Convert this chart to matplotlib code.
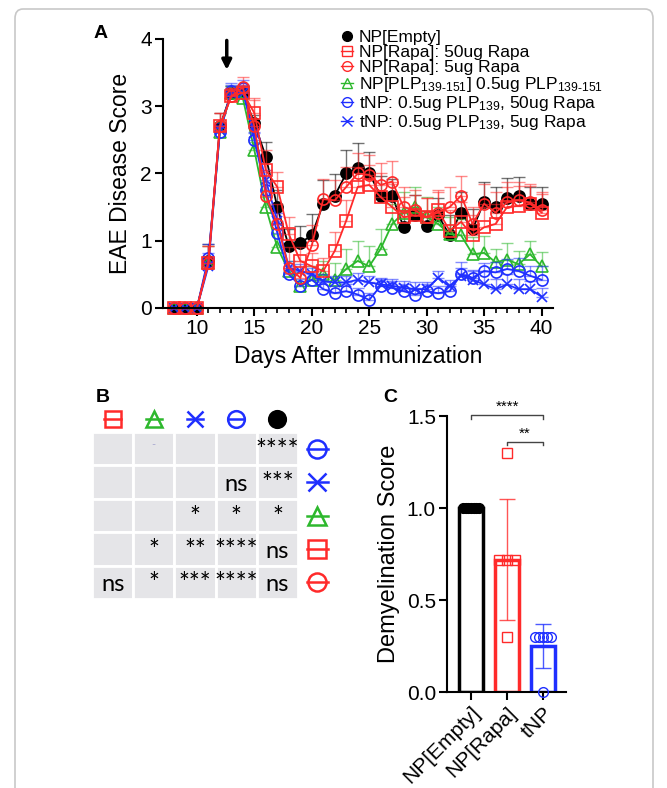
import numpy as np
import matplotlib.pyplot as plt
from matplotlib.lines import Line2D
from matplotlib.patches import Rectangle, FancyBboxPatch

plt.rcParams["font.family"] = ["Liberation Sans", "DejaVu Sans"]
plt.rcParams["mathtext.fontset"] = "custom"
plt.rcParams["mathtext.rm"] = "Liberation Sans"
plt.rcParams["mathtext.it"] = "Liberation Sans"

# ---- Panel A data: mean EAE score and upper SEM, days 8..40 ----
days = list(range(8, 41))

empty = [0, 0, 0, 0.70, 2.70, 3.20, 3.20, 2.75, 2.25, 1.50, 0.92, 0.97, 1.08, 1.55, 1.67, 2.00, 2.08,
         2.00, 1.67, 1.67, 1.20, 1.38, 1.22, 1.38, 1.08, 1.42, 1.17, 1.58, 1.50, 1.63, 1.67, 1.55, 1.55]
empty_err = [0, 0, 0, 0.25, 0.20, 0.10, 0.10, 0.12, 0.22, 0.25, 0.25, 0.25, 0.32, 0.35, 0.32, 0.35, 0.38,
             0.32, 0.30, 0.25, 0.25, 0.30, 0.22, 0.25, 0.30, 0.30, 0.30, 0.30, 0.30, 0.30, 0.28, 0.25, 0.25]

rapa50 = [0, 0, 0, 0.67, 2.70, 3.15, 3.20, 2.90, 2.05, 1.80, 1.10, 0.70, 0.62, 0.55, 0.85, 1.30, 1.80,
          1.83, 1.65, 1.50, 1.35, 1.38, 1.35, 1.45, 1.15, 1.28, 1.08, 1.20, 1.25, 1.50, 1.52, 1.55, 1.42]
rapa50_err = [0, 0, 0, 0.25, 0.20, 0.12, 0.12, 0.22, 0.30, 0.22, 0.25, 0.20, 0.20, 0.20, 0.28, 0.30, 0.30,
              0.30, 0.35, 0.35, 0.30, 0.30, 0.28, 0.30, 0.30, 0.30, 0.30, 0.30, 0.30, 0.30, 0.30, 0.30, 0.30]

rapa5 = [0, 0, 0, 0.67, 2.70, 3.15, 3.28, 2.70, 1.67, 1.25, 0.60, 0.45, 0.93, 1.62, 1.60, 1.80, 2.00,
         1.98, 1.83, 1.88, 1.50, 1.45, 1.35, 1.42, 1.50, 1.67, 1.25, 1.55, 1.42, 1.57, 1.60, 1.57, 1.45]
rapa5_err = [0, 0, 0, 0.25, 0.20, 0.12, 0.15, 0.40, 0.35, 0.30, 0.30, 0.25, 0.30, 0.30, 0.30, 0.30, 0.30,
             0.30, 0.32, 0.30, 0.30, 0.30, 0.28, 0.30, 0.30, 0.30, 0.25, 0.30, 0.30, 0.30, 0.28, 0.25, 0.25]

plp = [0, 0, 0, 0.67, 2.62, 3.20, 3.12, 2.35, 1.50, 0.90, 0.55, 0.33, 0.42, 0.50, 0.42, 0.58, 0.70,
       0.62, 0.88, 1.25, 1.42, 1.50, 1.35, 1.25, 1.10, 1.08, 0.80, 0.82, 0.68, 0.72, 0.65, 0.80, 0.62]
plp_err = [0, 0, 0, 0.25, 0.15, 0.10, 0.10, 0.12, 0.15, 0.20, 0.15, 0.20, 0.20, 0.20, 0.25, 0.30, 0.30,
           0.30, 0.30, 0.30, 0.30, 0.30, 0.30, 0.25, 0.25, 0.25, 0.25, 0.25, 0.20, 0.25, 0.20, 0.20, 0.22]

tnp50 = [0, 0, 0, 0.75, 2.62, 3.22, 3.27, 2.50, 1.75, 1.12, 0.50, 0.33, 0.42, 0.28, 0.22, 0.25, 0.20,
         0.12, 0.33, 0.30, 0.25, 0.20, 0.25, 0.22, 0.25, 0.50, 0.45, 0.55, 0.53, 0.58, 0.55, 0.48, 0.42]
tnp50_err = [0, 0, 0, 0.20, 0.10, 0.12, 0.12, 0.12, 0.12, 0.15, 0.12, 0.10, 0.10, 0.10, 0.10, 0.10, 0.10,
             0.10, 0.10, 0.10, 0.10, 0.10, 0.10, 0.10, 0.10, 0.10, 0.10, 0.12, 0.15, 0.15, 0.20, 0.15, 0.20]

tnp5 = [0, 0, 0, 0.62, 2.65, 3.20, 3.20, 2.60, 1.90, 1.30, 0.60, 0.55, 0.50, 0.40, 0.38, 0.38, 0.42,
        0.38, 0.35, 0.33, 0.30, 0.28, 0.28, 0.45, 0.32, 0.48, 0.42, 0.35, 0.28, 0.35, 0.28, 0.28, 0.17]
tnp5_err = [0, 0, 0, 0.20, 0.10, 0.12, 0.12, 0.10, 0.15, 0.12, 0.10, 0.10, 0.10, 0.10, 0.10, 0.10, 0.10,
            0.10, 0.10, 0.10, 0.10, 0.10, 0.10, 0.10, 0.10, 0.20, 0.15, 0.20, 0.15, 0.15, 0.15, 0.12, 0.12]

labels_a = ["NP[Empty]",
            "NP[Rapa]: 50ug Rapa",
            "NP[Rapa]: 5ug Rapa",
            r"NP[PLP$_{\mathregular{139‑151}}$] 0.5ug PLP$_{\mathregular{139‑151}}$",
            r"tNP: 0.5ug PLP$_{\mathregular{139}}$, 50ug Rapa",
            r"tNP: 0.5ug PLP$_{\mathregular{139}}$, 5ug Rapa"]

RED = "#ff2a2a"
GREEN = "#2db82d"
BLUE = "#1f2fff"

# ---- Panel B: multiple comparison table ----
table_b = [["", "-", "", "", "****"],
           ["", "", "", "ns", "***"],
           ["", "", "*", "*", "*"],
           ["", "*", "**", "****", "ns"],
           ["ns", "*", "***", "****", "ns"]]

# ---- Panel C data ----
groups_c = ["NP[Empty]", "NP[Rapa]", "tNP"]
means_c = [1.0, 0.72, 0.25]
sd_c = [0.0, 0.33, 0.12]
pts_empty = [1.0, 1.0, 1.0, 1.0, 1.0, 1.0, 1.0]
pts_rapa = [1.3, 0.72, 0.72, 0.72, 0.3]
pts_tnp = [0.3, 0.3, 0.3, 0.3, 0.3, 0.0]

W, H = 667, 788
fig = plt.figure(figsize=(W / 100, H / 100), dpi=100)

def px_axes(x0, y0, x1, y1):
    return fig.add_axes([x0 / W, 1 - y1 / H, (x1 - x0) / W, (y1 - y0) / H])

# frame around figure
fig.patches.append(FancyBboxPatch((15 / W, -0.05), (653 - 15) / W, 1 + 0.05 - 9 / H,
                                  boxstyle="round,pad=0,rounding_size=0.012",
                                  transform=fig.transFigure, fc="none", ec="#c8c8c8", lw=1.2))

# ================= Panel A =================
ax = px_axes(163, 39, 553, 308)
series = [
    (empty, empty_err, "k", "o", "k"),
    (plp, plp_err, GREEN, "^", "none"),
    (tnp50, tnp50_err, BLUE, "o", "none"),
    (tnp5, tnp5_err, BLUE, "x", "none"),
    (rapa50, rapa50_err, RED, "s", "none"),
    (rapa5, rapa5_err, RED, "o", "none"),
]
for vals, err, col, mk, mfc in series:
    ax.errorbar(days, vals, yerr=[np.zeros(len(err)), err], fmt="none", ecolor=col,
                elinewidth=1, capsize=4, capthick=1, alpha=0.55, clip_on=False)
    ax.plot(days, vals, color=col, lw=1.3, marker=mk, ms=8 if mk != "x" else 7,
            mfc=mfc, mec=col, mew=1.2, clip_on=False)

ax.set_xlim(7.05, 41)
ax.set_ylim(0, 4)
ax.set_xticks([10, 15, 20, 25, 30, 35, 40])
ax.set_xticks(days, minor=True)
ax.set_yticks([0, 1, 2, 3, 4])
for s in ["top", "right"]:
    ax.spines[s].set_visible(False)
for s in ["left", "bottom"]:
    ax.spines[s].set_linewidth(1.5)
ax.tick_params(which="major", length=6, width=1.5, labelsize=15, pad=2)
ax.tick_params(which="minor", length=3.5, width=1.2)
ax.set_xlabel("Days After Immunization", fontsize=16.5, labelpad=5)
ax.set_ylabel("EAE Disease Score", fontsize=16.5, labelpad=6)
ax.annotate("", xy=(12.6, 3.5), xytext=(12.6, 4.02),
            arrowprops=dict(arrowstyle="-|>", color="k", lw=2.5, mutation_scale=14),
            annotation_clip=False)

handles = [Line2D([], [], color="k", marker="o", mfc="k", mec="k", ms=7, lw=0),
           Line2D([], [], color=RED, marker="s", mfc="none", mec=RED, ms=7, lw=1),
           Line2D([], [], color=RED, marker="o", mfc="none", mec=RED, ms=7, lw=1),
           Line2D([], [], color=GREEN, marker="^", mfc="none", mec=GREEN, ms=7, lw=1),
           Line2D([], [], color=BLUE, marker="o", mfc="none", mec=BLUE, ms=7, lw=1),
           Line2D([], [], color=BLUE, marker="x", mfc="none", mec=BLUE, ms=7, lw=1)]
fig.legend(handles, labels_a, loc="upper left", bbox_to_anchor=(332 / W, 1 - 21 / H),
           frameon=False, fontsize=12.5, handlelength=0.7, handletextpad=0.35,
           labelspacing=0.0, borderpad=0)
fig.text(94 / W, 1 - 33 / H, "A", fontsize=14, fontweight="bold", va="center")

# ================= Panel B =================
axb = px_axes(92, 599 - 6 * 33.4, 92 + 6 * 41.2, 599)
axb.set_xlim(0, 6)
axb.set_ylim(0, 6)
axb.axis("off")
for r, row in enumerate(table_b):
    for c, txt in enumerate(row):
        y0 = 4 - r
        axb.add_patch(Rectangle((c, y0), 1, 1, fc="#e5e5e8", ec="white", lw=2))
        if txt == "-":
            axb.text(c + 0.5, y0 + 0.62, "-", ha="center", va="center", fontsize=8,
                     color="#a8a8d0", family="Lato")
        elif txt == "ns":
            axb.text(c + 0.5, y0 + 0.42, txt, ha="center", va="center", fontsize=17,
                     family="Lato")
        elif txt:
            axb.text(c + 0.5, y0 + 0.42, txt, ha="center", va="center", fontsize=18.5,
                     family="Lato")

header_syms = [(RED, "s", "none"), (GREEN, "^", "none"), (BLUE, "x", "none"),
               (BLUE, "o", "none"), ("k", "o", "k")]
row_syms = [(BLUE, "o", "none"), (BLUE, "x", "none"), (GREEN, "^", "none"),
            (RED, "s", "none"), (RED, "o", "none")]
for c, (col, mk, mfc) in enumerate(header_syms):
    xs = [c + 0.5 - 0.2, c + 0.5 + 0.2]
    if mfc == "none":
        axb.plot(xs, [5.4, 5.4], color=col, lw=1.8, clip_on=False)
    axb.plot([c + 0.5], [5.4], marker=mk, ms=12, mfc=mfc, mec=col, mew=1.8, ls="none",
             clip_on=False)
for r, (col, mk, mfc) in enumerate(row_syms):
    yc = 4 - r + 0.5
    axb.plot([5.22, 5.72], [yc, yc], color=col, lw=1.8, clip_on=False)
    axb.plot([5.47], [yc], marker=mk, ms=13, mfc=mfc, mec=col, mew=1.8, ls="none",
             clip_on=False)
fig.text(96 / W, 1 - 398 / H, "B", fontsize=14, fontweight="bold", va="center")

# ================= Panel C =================
axc = px_axes(447, 416, 566, 692)
xc = np.arange(len(groups_c))
cols_c = ["k", RED, BLUE]
axc.bar(xc, means_c, width=0.67, facecolor="white", edgecolor=cols_c, linewidth=2.5, zorder=2)
for i in range(len(groups_c)):
    if sd_c[i] > 0:
        axc.errorbar(xc[i], means_c[i], yerr=sd_c[i], fmt="none", ecolor=cols_c[i],
                     elinewidth=1, capsize=6, capthick=1, alpha=0.8, zorder=3)
pts_all = [(pts_empty, "o", "k", "k"), (pts_rapa, "s", RED, "none"), (pts_tnp, "o", BLUE, "none")]
for i, (pts, mk, col, mfc) in enumerate(pts_all):
    pts = np.array(pts)
    offs = np.zeros(len(pts))
    for v in np.unique(pts):
        idx = np.where(pts == v)[0]
        if len(idx) > 1:
            offs[idx] = np.linspace(-0.22, 0.22, len(idx))
    axc.plot(xc[i] + offs, pts, ls="none", marker=mk, ms=7, mfc=mfc, mec=col, mew=1,
             zorder=4, clip_on=False)

axc.set_xlim(-0.67, 2.64)
axc.set_ylim(0, 1.5)
axc.set_yticks([0, 0.5, 1.0, 1.5])
axc.set_yticklabels(["0.0", "0.5", "1.0", "1.5"])
axc.set_xticks(xc)
axc.set_xticklabels(groups_c, rotation=45, ha="right", rotation_mode="anchor")
for s in ["top", "right"]:
    axc.spines[s].set_visible(False)
for s in ["left", "bottom"]:
    axc.spines[s].set_linewidth(1.5)
axc.tick_params(length=6, width=1.5, labelsize=15, pad=2)
axc.tick_params(axis="x", labelsize=15)
axc.set_ylabel("Demyelination Score", fontsize=17, labelpad=5)

for (x0, x1, yb, lab) in [(0, 2, 1.505, "****"), (1, 2, 1.36, "**")]:
    axc.plot([x0, x0, x1, x1], [yb - 0.02, yb, yb, yb - 0.02], color="#444444", lw=1,
             clip_on=False)
    axc.text((x0 + x1) / 2, yb + 0.005, lab, ha="center", va="bottom", fontsize=11)
fig.text(383 / W, 1 - 397 / H, "C", fontsize=14, fontweight="bold", va="center")

fig.savefig("out.png", dpi=100)
